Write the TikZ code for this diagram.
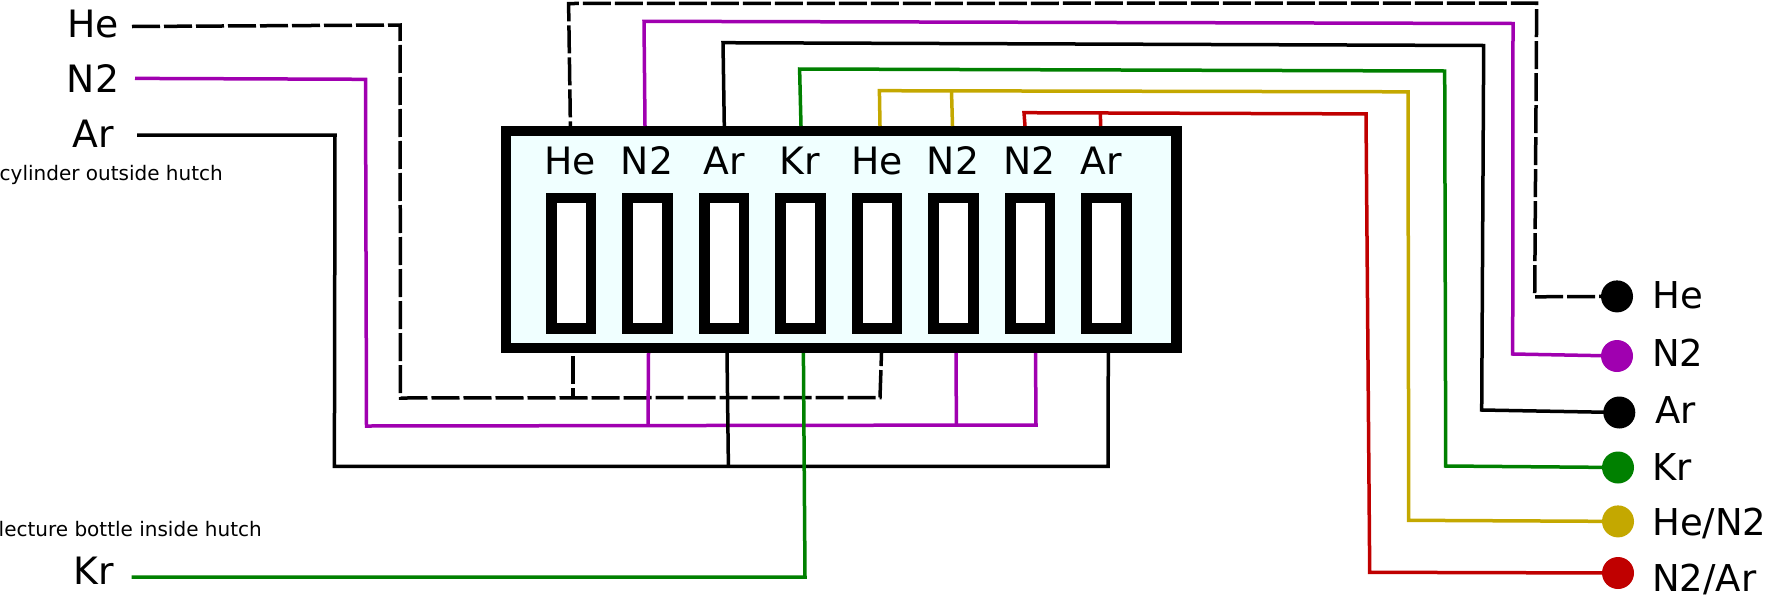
\documentclass[tikz,border=0pt]{standalone}
\usepackage{fontspec}
\setmainfont{DejaVu Sans}
\definecolor{cPurple}{HTML}{A000B0}
\definecolor{cGold}{HTML}{C4A800}
\definecolor{cRed}{HTML}{C00000}
\definecolor{cGreen}{HTML}{008000}
\definecolor{cPanel}{HTML}{F0FFFF}
\tikzset{
  panelbox/.style={draw=black,fill=cPanel,line width=10.5pt,minimum width=670.5pt,minimum height=217pt,inner sep=0pt,outer sep=0pt},
  slotbox/.style={draw=black,fill=white,line width=10.75pt,minimum width=39.75pt,minimum height=130.6pt,inner sep=0pt,outer sep=0pt},
  biglabel/.style={font=\fontsize{37.7}{37.7}\selectfont,inner sep=0pt,anchor=base},
  rlabel/.style={font=\fontsize{37}{37}\selectfont,inner sep=0pt,anchor=base west},
  smalllabel/.style={font=\fontsize{20}{20}\selectfont,inner sep=0pt,anchor=base west},
  outdot/.style={circle,minimum size=32pt,inner sep=0pt,outer sep=0pt},
  wire/.style={line width=3.5pt,miter limit=10},
  dashwire/.style={wire,dash pattern=on 28pt off 4pt},
}
\begin{document}
\begin{tikzpicture}[x=1pt,y=-1pt]
\useasboundingbox (0,0) rectangle (1765,595);
\clip (0,0) rectangle (1765,595);
% panel and slots
\node[panelbox] (panel) at (841.2,239.5) {};
\foreach \n/\x in {1/571,2/647.5,3/724,4/800.5,5/877,6/953.5,7/1030,8/1106.6}{
  \node[slotbox] (slot\n) at (\x,263.2) {};
}
\node[biglabel] (pl1) at (570.4,174) {He};
\node[biglabel] (pl2) at (647,174) {N2};
\node[biglabel] (pl3) at (724,174) {Ar};
\node[biglabel] (pl4) at (800,174) {Kr};
\node[biglabel] (pl5) at (877,174) {He};
\node[biglabel] (pl6) at (953,174) {N2};
\node[biglabel] (pl7) at (1029.6,174) {N2};
\node[biglabel] (pl8) at (1101,174) {Ar};
% left labels
\node[biglabel] (lHe) at (93,37) {He};
\node[biglabel] (lN) at (93,92.5) {N2};
\node[biglabel] (lAr) at (93.5,147) {Ar};
\node[biglabel] (lKr) at (93.5,584) {Kr};
\node[smalllabel] (capA) at (-0.5,180) {cylinder outside hutch};
\node[smalllabel] (capB) at (-1.5,536.5) {lecture bottle inside hutch};
% output dots
\node[outdot,fill=black] (oHe) at (1617,296.4) {};
\node[outdot,fill=cPurple] (oN) at (1617,356) {};
\node[outdot,fill=black] (oAr) at (1619.3,412.5) {};
\node[outdot,fill=cGreen] (oKr) at (1618,467.5) {};
\node[outdot,fill=cGold] (oHN) at (1618,521.4) {};
\node[outdot,fill=cRed] (oNA) at (1618,573) {};
\node[rlabel] (rHe) at (1652,308.5) {He};
\node[rlabel] (rN) at (1652,366) {N2};
\node[rlabel] (rAr) at (1655,423) {Ar};
\node[rlabel] (rKr) at (1652,480) {Kr};
\node[rlabel] (rHN) at (1652,535.5) {He/N2};
\node[rlabel] (rNA) at (1652,591.5) {N2/Ar};
% free ends of inlet wires and panel ports
\coordinate (sHe) at (132,26.5);
\coordinate (sN) at (135,78.4);
\coordinate (sAr) at (137,135);
\coordinate (sKr) at (131.6,577);
\coordinate (t1) at (570.4,126);
\coordinate (t2) at (645,126);
\coordinate (t3) at (724.3,126);
\coordinate (t4) at (801,126);
\coordinate (t5) at (880,126);
\coordinate (t6) at (952.5,126);
\coordinate (t7) at (1025,126);
\coordinate (t8) at (1100.7,126);
\coordinate (b1) at (573,356);
\coordinate (b2) at (648.5,353);
\coordinate (b3) at (727,353);
\coordinate (b4) at (803.4,353);
\coordinate (b5) at (881.5,353);
\coordinate (b6) at (956,353);
\coordinate (b7) at (1035.5,353);
\coordinate (b8) at (1108.3,353);
% inlets, below the panel
\draw[wire,dashwire] (sHe) -- (400,25) -- (400.5,398) -- (880,397.5) -- (b5);
\draw[wire,dashwire] (b1) -- (573,397.8);
\draw[wire,cPurple] (sN) -- (365.5,79.3) -- (366.5,426) -- (1036,425) -- (b7);
\draw[wire,cPurple] (b2) -- (648,425.6);
\draw[wire,cPurple] (b6) -- (956.4,425);
\draw[wire] (sAr) -- (335,135) -- (334.4,466.3) -- (1108,466.3) -- (b8);
\draw[wire] (b3) -- (728.4,466.3);
\draw[wire,cGreen] (sKr) -- (805,577) -- (b4);
% outlets, above the panel
\draw[wire,dashwire,dash phase=10pt] (oHe.center) -- (1534.7,296.8) -- (1536.7,3) -- (568.6,3.5) -- (t1);
\draw[wire,cPurple] (oN.center) -- (1512.7,354) -- (1513,23.5) -- (644,21.3) -- (t2);
\draw[wire] (oAr.center) -- (1481.7,410) -- (1483.7,45.5) -- (723,42.7) -- (t3);
\draw[wire,cGreen] (oKr.center) -- (1445.7,466) -- (1444.7,71) -- (799.6,69) -- (t4);
\draw[wire,cGold] (oHN.center) -- (1408.7,520.3) -- (1408,91.8) -- (879.4,90.7) -- (t5);
\draw[wire,cGold] (951.5,91) -- (t6);
\draw[wire,cRed] (oNA.center) -- (1369.7,572.3) -- (1366,113.9) -- (1024,112.7) -- (t7);
\draw[wire,cRed] (1100.3,113.2) -- (t8);
\end{tikzpicture}
\end{document}
